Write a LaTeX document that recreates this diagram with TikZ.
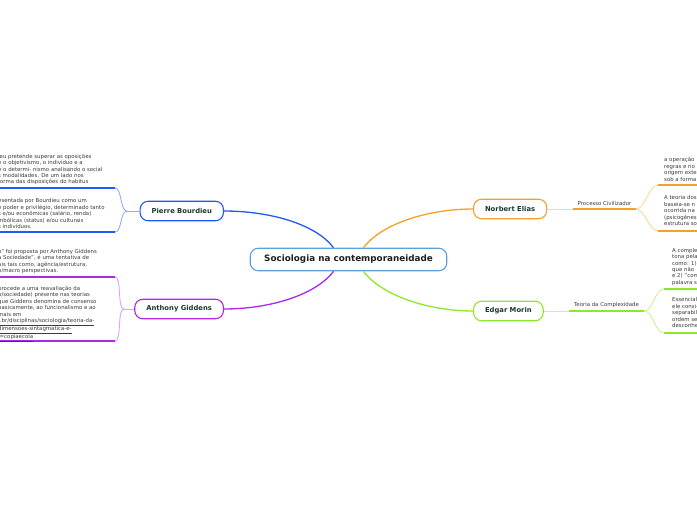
\documentclass[tikz,border=0pt]{standalone}
\usepackage{fontspec}
\setmainfont{DejaVu Sans}

\definecolor{rootblue}{RGB}{95,160,220}
\definecolor{pbblue}{RGB}{30,90,245}
\definecolor{pblight}{RGB}{140,175,250}
\definecolor{agpurple}{RGB}{170,40,235}
\definecolor{aglight}{RGB}{215,165,250}
\definecolor{neorange}{RGB}{245,160,40}
\definecolor{nelight}{RGB}{250,215,165}
\definecolor{emgreen}{RGB}{140,232,40}
\definecolor{emlight}{RGB}{200,245,150}
\definecolor{topictext}{RGB}{25,60,45}
\definecolor{notetext}{RGB}{60,60,60}

\begin{document}
\begin{tikzpicture}[x=1pt, y=-1pt,
    root/.style={draw=rootblue, line width=1.1pt, fill=white, rounded corners=8pt,
        minimum height=22.5pt, inner xsep=14pt, text=black!88,
        font=\bfseries\fontsize{8.8}{10}\selectfont},
    topic/.style={draw=#1, line width=1.1pt, fill=white, rounded corners=8pt,
        minimum height=19.5pt, inner xsep=11.5pt, text=topictext,
        font=\bfseries\fontsize{6.8}{8}\selectfont},
    note/.style={inner sep=0pt, align=left, anchor=north west, text=notetext,
        font=\fontsize{5.4}{6.4}\selectfont},
    tag/.style={inner sep=0pt, text=notetext, font=\fontsize{5.4}{6.4}\selectfont},
    link/.style={line width=1.3pt},
    under/.style={line width=2pt},
    fork/.style={line width=0.9pt}]
    % Page frame, everything outside is cut away
    \path[use as bounding box] (0,0) rectangle (697,520);
    \clip (0,0) rectangle (697,520);
    \fill[white] (0,0) rectangle (697,520);

    % Central topic and the four main branches
    \node[root] (root) at (348.5,259.5) {Sociologia na contemporaneidade};
    \node[topic=pbblue, anchor=east] (pb) at (224,211) {Pierre Bourdieu};
    \node[topic=agpurple, anchor=east] (ag) at (224,309) {Anthony Giddens};
    \node[topic=neorange, anchor=west] (ne) at (473,209) {Norbert Elias};
    \node[topic=emgreen, anchor=west] (em) at (473,311) {Edgar Morin};

    % Curved links from the central topic
    \draw[link, pbblue] ([xshift=-15pt]root.north) .. controls +(-18,-24) and +(45,0) .. (pb.east);
    \draw[link, agpurple] ([xshift=-15pt]root.south) .. controls +(-18,24) and +(45,0) .. (ag.east);
    \draw[link, neorange] ([xshift=15pt]root.north) .. controls +(18,-24) and +(-45,0) .. (ne.west);
    \draw[link, emgreen] ([xshift=15pt]root.south) .. controls +(18,24) and +(-45,0) .. (em.west);

    % Pierre Bourdieu notes (left)
    \coordinate (pbFork) at (127,211);
    \coordinate (pbA) at (115,188);
    \coordinate (pbAend) at (-5,188);
    \coordinate (pbB) at (115,232);
    \coordinate (pbBend) at (-5,232);
    \draw[fork, pblight] (pb.west) -- (pbFork);
    \draw[fork, pblight] (pbFork) .. controls +(-7,0) and +(7,0) .. (pbA);
    \draw[fork, pblight] (pbFork) .. controls +(-7,0) and +(7,0) .. (pbB);
    \draw[under, pbblue] (pbA) -- (pbAend);
    \draw[under, pbblue] (pbB) -- (pbBend);
    \node[note] (pbAtext) at (-2,154) {ieu pretende superar as oposições\\
        e o objetivismo, o indivíduo e a\\
        e o determi- nismo analisando o social\\
        s modalidades. De um lado nos\\
        forma das disposições do habitus};
    \node[note] (pbBtext) at (-2,198.5) {esentada por Bourdieu como um\\
        e poder e privilégio, determinado tanto\\
        s e/ou econômicas (salário, renda)\\
        mbólicas (status) e/ou culturais\\
        s indivíduos.};

    % Anthony Giddens notes (left)
    \coordinate (agFork) at (124,309);
    \coordinate (agA) at (115,277);
    \coordinate (agAend) at (-5,277);
    \coordinate (agB) at (115,341);
    \coordinate (agBend) at (-5,341);
    \draw[fork, aglight] (ag.west) -- (agFork);
    \draw[fork, aglight] (agFork) .. controls +(-7,0) and +(7,0) .. (agA);
    \draw[fork, aglight] (agFork) .. controls +(-7,0) and +(7,0) .. (agB);
    \draw[under, agpurple] (agA) -- (agAend);
    \draw[under, agpurple] (agB) -- (agBend);
    \node[note] (agAtext) at (-2,249) {o” foi proposta por Anthony Giddens\\
        a Sociedade”, é uma tentativa de\\
        ais tais como, agência/estrutura,\\
        o/macro perspectivas.};
    \node[note] (agBtext) at (-2,286) {procede a uma reavaliação da\\
        o/sociedade) presente nas teorias\\
        que Giddens denomina de consenso\\
        basicamente, ao funcionalismo e ao\\
        mais em\\
        \underline{..br/disciplinas/sociologia/teoria-da-}\\
        \underline{dimensoes-sintagmatica-e-}\\
        \underline{l=copiaecola}};

    % Norbert Elias notes (right)
    \node[tag] (civ) at (604.5,203) {Processo Civilizador};
    \coordinate (civL) at (573,209);
    \coordinate (civR) at (636,209);
    \coordinate (neA) at (658,185);
    \coordinate (neAend) at (702,185);
    \coordinate (neB) at (658,231);
    \coordinate (neBend) at (702,231);
    \draw[fork, nelight] (ne.east) -- (civL);
    \draw[under, neorange] (civL) -- (civR);
    \draw[fork, nelight] (civR) .. controls +(9,0) and +(-9,0) .. (neA);
    \draw[fork, nelight] (civR) .. controls +(9,0) and +(-9,0) .. (neB);
    \draw[under, neorange] (neA) -- (neAend);
    \draw[under, neorange] (neB) -- (neBend);
    \node[note] (neAtext) at (664,157.5) {a operação\\ regras e no\\ origem exte\\ sob a forma};
    \node[note] (neBtext) at (664,195.5) {A teoria dos\\ baseia-se n\\ ocorrida na\\ (psicogênes\\ estrutura so};

    % Edgar Morin notes (right)
    \node[tag] (cplx) at (606.5,305) {Teoria da Complexidade};
    \coordinate (cplxL) at (569,311);
    \coordinate (cplxR) at (644,311);
    \coordinate (emA) at (664,289);
    \coordinate (emAend) at (702,289);
    \coordinate (emB) at (664,333);
    \coordinate (emBend) at (702,333);
    \draw[fork, emlight] (em.east) -- (cplxL);
    \draw[under, emgreen] (cplxL) -- (cplxR);
    \draw[fork, emlight] (cplxR) .. controls +(9,0) and +(-9,0) .. (emA);
    \draw[fork, emlight] (cplxR) .. controls +(9,0) and +(-9,0) .. (emB);
    \draw[under, emgreen] (emA) -- (emAend);
    \draw[under, emgreen] (emB) -- (emBend);
    \node[note] (emAtext) at (672,248) {A comple\\ tona pela\\ como: 1)\\ que não\\ e 2) “com\\ palavra s};
    \node[note] (emBtext) at (672,297.5) {Essencial\\ ele consi-\\ separabili\\ ordem se\\ desconhe};
\end{tikzpicture}
\end{document}
